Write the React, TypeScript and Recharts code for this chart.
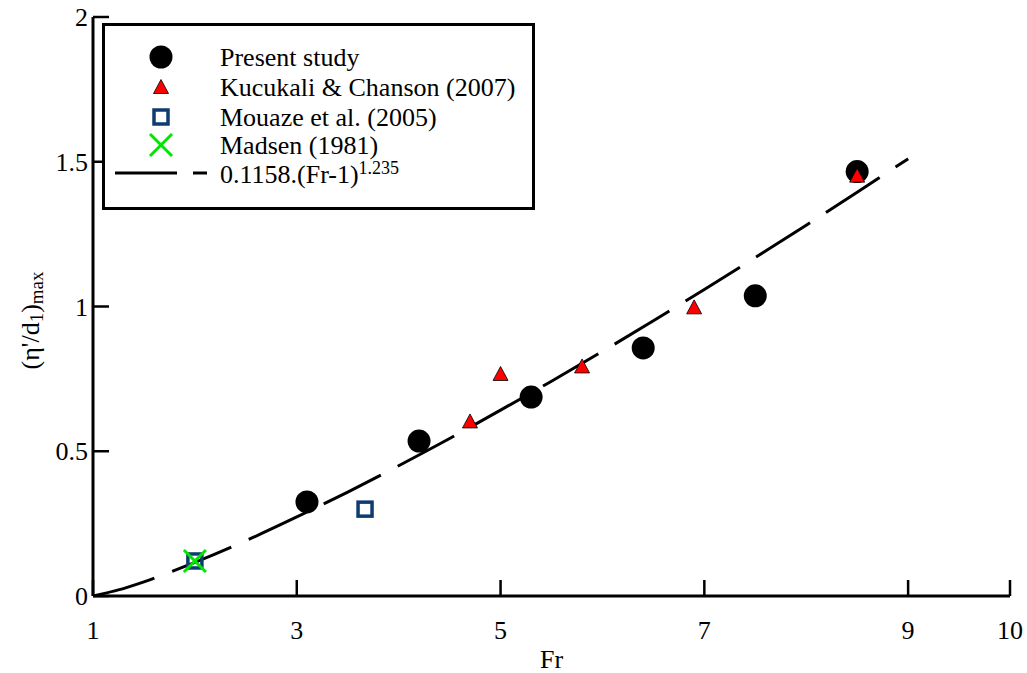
import React from 'react';
import { ComposedChart, XAxis, YAxis, Line, Scatter, Legend, Label } from 'recharts';

const FONT = '"Liberation Serif", "Times New Roman", Times, serif';

// Axis ticks
const X_TICKS = [1, 3, 5, 7, 9, 10];
const Y_TICKS = [0, 0.5, 1, 1.5, 2];

// Present study
const FR_PRESENT = [3.1, 4.2, 5.3, 6.4, 7.5, 8.5];
const ETA_PRESENT = [0.325, 0.535, 0.687, 0.857, 1.037, 1.466];

// Kucukali & Chanson (2007)
const FR_KC = [4.7, 5.0, 5.8, 6.9, 8.5];
const ETA_KC = [0.603, 0.767, 0.793, 0.997, 1.452];

// Mouaze et al. (2005)
const FR_MOUAZE = [2.0, 3.67];
const ETA_MOUAZE = [0.121, 0.3];

// Madsen (1981)
const FR_MADSEN = [2.0];
const ETA_MADSEN = [0.121];

// Fitted curve 0.1158.(Fr-1)^1.235
const FR_CURVE = [1, 1.25, 1.5, 2, 2.5, 3, 3.5, 4, 4.5, 5, 5.5, 6, 6.5, 7, 7.5, 8, 8.5, 9];
const ETA_CURVE = [0, 0.021, 0.049, 0.116, 0.191, 0.273, 0.359, 0.45, 0.544, 0.642, 0.742, 0.845, 0.951, 1.059, 1.169, 1.281, 1.395, 1.51];

const LEGEND_LABELS = ['Present study', 'Kucukali & Chanson (2007)', 'Mouaze et al. (2005)', 'Madsen (1981)'];
const CURVE_LABEL = '0.1158.(Fr-1)';
const CURVE_EXP = '1.235';

const zip = (xs: number[], ys: number[]) => xs.map((x, i) => ({ x, y: ys[i] }));
const present = zip(FR_PRESENT, ETA_PRESENT);
const kc = zip(FR_KC, ETA_KC);
const mouaze = zip(FR_MOUAZE, ETA_MOUAZE);
const madsen = zip(FR_MADSEN, ETA_MADSEN);
const curve = zip(FR_CURVE, ETA_CURVE);

const GREEN = '#00e600';
const BLUE = '#0f3c70';
const DASH = '64 19';

const CircleShape = (p: any) => <circle cx={p.cx} cy={p.cy} r={11.5} fill="#000" />;
const TriShape = (p: any) => (
  <polygon
    points={`${p.cx},${p.cy - 7.5} ${p.cx - 7.5},${p.cy + 6.5} ${p.cx + 7.5},${p.cy + 6.5}`}
    fill="#ff0000"
    stroke="#000"
    strokeWidth={0.8}
  />
);
const SquareShape = (p: any) => (
  <rect x={p.cx - 7} y={p.cy - 7} width={14} height={14} fill="none" stroke={BLUE} strokeWidth={3.5} />
);
const CrossShape = (p: any) => (
  <g stroke={GREEN} strokeWidth={3}>
    <line x1={p.cx - 11} y1={p.cy - 11} x2={p.cx + 11} y2={p.cy + 11} />
    <line x1={p.cx - 11} y1={p.cy + 11} x2={p.cx + 11} y2={p.cy - 11} />
  </g>
);

const XTitle = (props: any) => {
  const vb = props.viewBox || {};
  return (
    <text x={vb.x + vb.width / 2} y={vb.y + 72} textAnchor="middle" fontFamily={FONT} fontSize={26} fill="#000">
      Fr
    </text>
  );
};

const YTitle = (props: any) => {
  const vb = props.viewBox || {};
  const cx = 30;
  const cy = vb.y + vb.height / 2 + 14;
  return (
    <text
      x={cx}
      y={cy}
      transform={`rotate(-90, ${cx}, ${cy})`}
      textAnchor="middle"
      dominantBaseline="central"
      fontFamily={FONT}
      fontSize={26}
      fill="#000"
    >
      <tspan>(η'/d</tspan>
      <tspan fontSize={19} dy={6}>1</tspan>
      <tspan dy={-6}>)</tspan>
      <tspan fontSize={19} dy={6}>max</tspan>
    </text>
  );
};

const LegendBox = () => {
  const W = 433;
  const H = 187;
  const sx = 59;
  const tx = 118;
  const rows = [34, 64, 94, 122, 150];
  return (
    <svg width={W} height={H} style={{ display: 'block' }}>
      <rect x={1.5} y={1.5} width={W - 3} height={H - 3} fill="#fff" stroke="#000" strokeWidth={3} />
      <circle cx={sx} cy={rows[0]} r={11.5} fill="#000" />
      <polygon
        points={`${sx},${rows[1] - 7.5} ${sx - 7.5},${rows[1] + 6.5} ${sx + 7.5},${rows[1] + 6.5}`}
        fill="#ff0000"
        stroke="#000"
        strokeWidth={0.8}
      />
      <rect x={sx - 7} y={rows[2] - 7} width={14} height={14} fill="none" stroke={BLUE} strokeWidth={3.5} />
      <g stroke={GREEN} strokeWidth={3}>
        <line x1={sx - 11} y1={rows[3] - 11} x2={sx + 11} y2={rows[3] + 11} />
        <line x1={sx - 11} y1={rows[3] + 11} x2={sx + 11} y2={rows[3] - 11} />
      </g>
      <line x1={13} y1={rows[4]} x2={105} y2={rows[4]} stroke="#000" strokeWidth={3} strokeDasharray="62 16" />
      {LEGEND_LABELS.map((t, i) => (
        <text key={t} x={tx} y={rows[i] + 9} fontFamily={FONT} fontSize={26} fill="#000">
          {t}
        </text>
      ))}
      <text x={tx} y={rows[4] + 10} fontFamily={FONT} fontSize={26} fill="#000">
        {CURVE_LABEL}
        <tspan fontSize={18} dy={-9}>{CURVE_EXP}</tspan>
      </text>
    </svg>
  );
};

const axisLine = { stroke: '#000', strokeWidth: 3 };
const tickLine = { stroke: '#000', strokeWidth: 2.5 };
const tickFont = { fontSize: 26, fill: '#000', fontFamily: FONT };

export default function App() {
  return (
    <div style={{ position: 'fixed', top: 0, left: 0, width: 1027, height: 673, background: '#fff' }}>
      <ComposedChart width={1027} height={673} margin={{ top: 17, right: 17, bottom: 0, left: 0 }}>
        <XAxis
          xAxisId="b"
          type="number"
          dataKey="x"
          orientation="bottom"
          domain={[1, 10]}
          ticks={X_TICKS}
          interval={0}
          allowDataOverflow
          height={77}
          tickSize={-16}
          tickMargin={41}
          axisLine={axisLine}
          tickLine={tickLine}
          tick={tickFont}
        >
          <Label content={XTitle} />
        </XAxis>
        <XAxis
          xAxisId="t"
          type="number"
          dataKey="x"
          orientation="top"
          domain={[1, 10]}
          ticks={X_TICKS}
          interval={0}
          allowDataOverflow
          height={0}
          tickSize={-16}
          axisLine={axisLine}
          tickLine={tickLine}
          tick={false}
        />
        <YAxis
          yAxisId="l"
          type="number"
          dataKey="y"
          orientation="left"
          domain={[0, 2]}
          ticks={Y_TICKS}
          interval={0}
          allowDataOverflow
          width={93}
          tickSize={-16}
          tickMargin={21}
          axisLine={axisLine}
          tickLine={tickLine}
          tick={tickFont}
        >
          <Label content={YTitle} />
        </YAxis>
        <YAxis
          yAxisId="r"
          type="number"
          dataKey="y"
          orientation="right"
          domain={[0, 2]}
          ticks={Y_TICKS}
          interval={0}
          allowDataOverflow
          width={0}
          tickSize={-16}
          axisLine={axisLine}
          tickLine={tickLine}
          tick={false}
        />
        <Legend
          layout="vertical"
          align="center"
          verticalAlign="middle"
          content={LegendBox}
          wrapperStyle={{ left: 102, top: 23, width: 433, height: 187 }}
        />
        <Line
          xAxisId="b"
          yAxisId="l"
          data={curve}
          dataKey="y"
          type="monotone"
          stroke="#000"
          strokeWidth={3}
          strokeDasharray={DASH}
          dot={false}
          activeDot={false}
          isAnimationActive={false}
          legendType="none"
        />
        <Scatter xAxisId="b" yAxisId="l" data={present} shape={CircleShape} isAnimationActive={false} />
        <Scatter xAxisId="b" yAxisId="l" data={kc} shape={TriShape} isAnimationActive={false} />
        <Scatter xAxisId="b" yAxisId="l" data={mouaze} shape={SquareShape} isAnimationActive={false} />
        <Scatter xAxisId="b" yAxisId="l" data={madsen} shape={CrossShape} isAnimationActive={false} />
      </ComposedChart>
    </div>
  );
}
